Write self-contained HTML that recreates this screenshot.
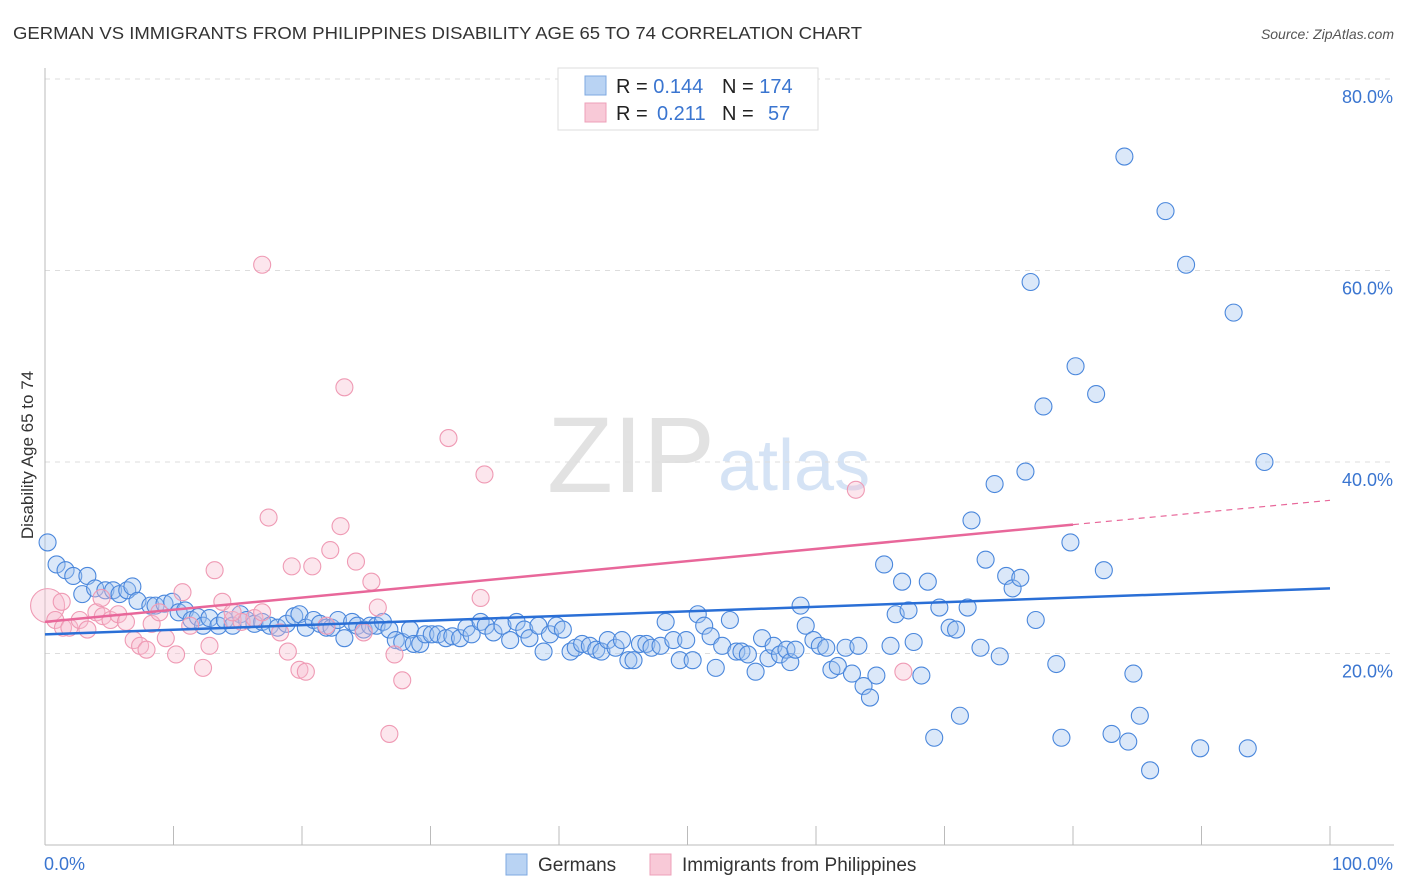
<!DOCTYPE html>
<html><head><meta charset="utf-8">
<style>
body{margin:0;background:#fff;font-family:"Liberation Sans",sans-serif;}
#wrap{position:relative;width:1406px;height:892px;overflow:hidden;}
svg text{font-family:"Liberation Sans",sans-serif;}
</style></head>
<body>
<div id="wrap">
<svg id="chart" width="1406" height="892">
  <text x="13" y="39" font-size="17.5" fill="#333" textLength="849" lengthAdjust="spacingAndGlyphs">GERMAN VS IMMIGRANTS FROM PHILIPPINES DISABILITY AGE 65 TO 74 CORRELATION CHART</text>
  <text x="1394" y="39" font-size="14" fill="#555" font-style="italic" text-anchor="end">Source: ZipAtlas.com</text>
  <text x="715" y="492" font-size="108" fill="#e2e2e2" text-anchor="end" font-family="Liberation Serif">ZIP</text>
  <text x="718" y="490" font-size="72" fill="#d5e3f5">atlas</text>
  <g id="grid"></g>
  <g id="axes"></g>
  <g id="marks"></g>
  <text transform="translate(33,455) rotate(-90)" font-size="17" fill="#333" text-anchor="middle">Disability Age 65 to 74</text>
  <g>
    <rect x="558" y="68" width="260" height="62" fill="#fff" stroke="#ddd"/>
    <rect x="585" y="76" width="21" height="19" fill="#b9d3f3" stroke="#7ea8e0"/>
    <rect x="585" y="103" width="21" height="19" fill="#f8c9d7" stroke="#eea0b8"/>
    <text x="616" y="93" font-size="20" fill="#222">R = <tspan fill="#3a75d0">0.144</tspan><tspan x="722">N = </tspan><tspan fill="#3a75d0">174</tspan></text>
    <text x="616" y="120" font-size="20" fill="#222">R = <tspan x="657" fill="#3a75d0">0.211</tspan><tspan x="722">N = </tspan><tspan x="768" fill="#3a75d0">57</tspan></text>
  </g>
  <g>
    <rect x="506" y="854" width="21" height="21" fill="#b9d3f3" stroke="#7ea8e0"/>
    <text x="538" y="871" font-size="19" fill="#333">Germans</text>
    <rect x="650" y="854" width="21" height="21" fill="#f8c9d7" stroke="#eea0b8"/>
    <text x="682" y="871" font-size="19" fill="#333">Immigrants from Philippines</text>
  </g>
</svg>
</div>
<script>
const yTicks=[20,40,60,80];
const yTickLabels=["20.0%","40.0%","60.0%","80.0%"];
const xTicks=[0,10,20,30,40,50,60,70,80,90,100];
const xEndLabels=["0.0%","100.0%"];
const germanX=[0.2,0.9,1.6,2.2,3.3,2.9,3.9,4.7,5.3,5.8,6.4,6.8,7.2,8.2,8.6,9.3,9.9,10.4,10.9,11.4,11.9,12.3,12.8,13.5,14.0,14.6,15.2,15.7,16.3,16.9,17.5,18.1,18.8,19.4,19.8,20.3,20.9,21.4,21.9,22.3,22.8,23.3,23.9,24.3,24.8,25.3,25.8,26.3,26.8,27.3,27.8,28.4,28.7,29.2,29.6,30.1,30.6,31.2,31.7,32.3,32.8,33.2,33.9,34.3,34.9,35.6,36.2,36.7,37.3,37.7,38.4,38.8,39.3,39.8,40.3,40.9,41.3,41.8,42.4,42.9,43.3,43.8,44.4,44.9,45.4,45.8,46.3,46.8,47.2,47.9,48.3,48.9,49.4,49.9,50.4,50.8,51.3,51.8,52.2,52.7,53.3,53.8,54.2,54.7,55.3,55.8,56.3,56.7,57.2,57.7,58.0,58.4,58.8,59.2,59.8,60.3,60.8,61.2,61.7,62.3,62.8,63.3,63.7,64.2,64.7,65.3,65.8,66.2,66.7,67.2,67.6,68.2,68.7,69.2,69.6,70.4,70.9,71.2,71.8,72.1,72.8,73.2,73.9,74.3,74.8,75.3,75.9,76.3,76.7,77.1,77.7,78.7,79.1,79.8,80.2,81.8,82.4,83.0,84.0,84.3,84.7,85.2,86.0,87.2,88.8,89.9,92.5,93.6,94.9];
const germanY=[31.6,29.3,28.7,28.1,28.1,26.2,26.8,26.6,26.6,26.2,26.6,27.0,25.5,25.0,25.0,25.2,25.4,24.3,24.5,23.5,23.8,22.9,23.7,22.9,23.5,22.9,24.1,23.5,23.1,23.3,22.9,22.7,23.1,23.9,24.1,22.7,23.5,23.1,22.7,22.7,23.5,21.6,23.3,22.9,22.5,22.9,22.9,23.3,22.5,21.4,21.2,22.5,21.0,21.0,22.0,22.0,22.0,21.6,21.8,21.6,22.7,22.0,23.3,22.9,22.2,22.9,21.4,23.3,22.5,21.6,22.9,20.2,22.0,22.9,22.5,20.2,20.6,21.0,20.8,20.4,20.2,21.4,20.6,21.4,19.3,19.3,21.0,21.0,20.6,20.8,23.3,21.4,19.3,21.4,19.3,24.1,22.9,21.8,18.5,20.8,23.5,20.2,20.2,19.9,18.1,21.6,19.5,20.8,19.9,20.4,19.1,20.4,25.0,22.9,21.4,20.8,20.6,18.3,18.7,20.6,17.9,20.8,16.6,15.4,17.7,29.3,20.8,24.1,27.5,24.5,21.2,17.7,27.5,11.2,24.8,22.7,22.5,13.5,24.8,33.9,20.6,29.8,37.7,19.7,28.1,26.8,27.9,39.0,58.8,23.5,45.8,18.9,11.2,31.6,50.0,47.1,28.7,11.6,71.9,10.8,17.9,13.5,7.8,66.2,60.6,10.1,55.6,10.1,40.0];
const philX=[0.2,0.8,1.4,1.9,2.7,3.3,4.0,4.5,5.1,5.7,6.3,6.9,7.4,7.9,8.3,8.9,9.4,10.2,10.7,11.3,12.3,12.8,13.2,13.8,14.6,15.3,16.3,16.9,17.4,16.9,18.3,18.9,19.2,19.8,20.3,20.8,21.9,22.2,23.0,23.3,24.2,24.8,25.4,25.9,27.2,27.8,26.8,31.4,34.2,33.9,63.1,66.8,1.3,4.4,14.6];
const philY=[25.0,23.5,22.7,22.7,23.5,22.5,24.3,23.9,23.5,24.1,23.3,21.4,20.8,20.4,23.1,24.3,21.6,19.9,26.4,22.9,18.5,20.8,28.7,25.4,23.5,23.3,23.7,24.3,34.2,60.6,22.2,20.2,29.1,18.3,18.1,29.1,22.9,30.8,33.3,47.8,29.6,22.2,27.5,24.8,19.9,17.2,11.6,42.5,38.7,25.8,37.1,18.1,25.4,25.8,24.3];
const germanTrend=[22.0,26.8];
const philTrend=[23.3,36.0];
const philTrendSolidEnd=80;

const X0=45,X1=1330,Ybase=845,Ypx=9.575;
const sx=v=>X0+(X1-X0)*v/100;
const sy=v=>Ybase-v*Ypx;
const NS="http://www.w3.org/2000/svg";
function mk(tag,attrs,parent){const e=document.createElementNS(NS,tag);for(const k in attrs)e.setAttribute(k,attrs[k]);parent.appendChild(e);return e;}
const grid=document.getElementById('grid'),axes=document.getElementById('axes'),marks=document.getElementById('marks');
yTicks.forEach((t,i)=>{
  const l=mk('line',{x1:X0,x2:1394,y1:sy(t),y2:sy(t),stroke:'#ddd','stroke-dasharray':'5,5'},grid);
  
  
  const tx=mk('text',{x:1393,y:sy(t)+24,'font-size':18,fill:'#3a75d0','text-anchor':'end'},grid);
  tx.textContent=yTickLabels[i];
  
  
});
const ya=mk('line',{x1:X0,x2:X0,y1:68,y2:Ybase,stroke:'#bbb'},axes);


const xa=mk('line',{x1:X0,x2:1394,y1:Ybase,y2:Ybase,stroke:'#bbb'},axes);


xTicks.forEach(t=>{
  const l=mk('line',{x1:sx(t),x2:sx(t),y1:826,y2:Ybase,stroke:'#bbb'},axes);
  
  
});
const xl0=mk('text',{x:44,y:870,'font-size':18,fill:'#3a75d0'},axes);xl0.textContent=xEndLabels[0];


const xl1=mk('text',{x:1393,y:870,'font-size':18,fill:'#3a75d0','text-anchor':'end'},axes);xl1.textContent=xEndLabels[1];



germanX.forEach((x,i)=>{
  const c=mk('circle',{cx:sx(x),cy:sy(germanY[i]),r:8.5,fill:'rgba(160,195,240,0.38)',stroke:'#4a87dc','stroke-width':1.1},marks);
  
  
});
philX.forEach((x,i)=>{
  const c=mk('circle',{cx:sx(x),cy:sy(philY[i]),r:i===0?17:8.5,fill:'rgba(248,190,208,0.38)',stroke:'#ef9ab4','stroke-width':1.1},marks);
  
  
});
const gl=mk('line',{x1:sx(0),y1:sy(germanTrend[0]),x2:sx(100),y2:sy(germanTrend[1]),stroke:'#2a6fd6','stroke-width':2.5},marks);


const pAt=x=>philTrend[0]+(philTrend[1]-philTrend[0])*x/100;
const pl=mk('line',{x1:sx(0),y1:sy(pAt(0)),x2:sx(philTrendSolidEnd),y2:sy(pAt(philTrendSolidEnd)),stroke:'#e8679a','stroke-width':2.5},marks);


const pd=mk('line',{x1:sx(philTrendSolidEnd),y1:sy(pAt(philTrendSolidEnd)),x2:sx(100),y2:sy(pAt(100)),stroke:'#e8679a','stroke-width':1.2,'stroke-dasharray':'6,5'},marks);


</script>
</body></html>
